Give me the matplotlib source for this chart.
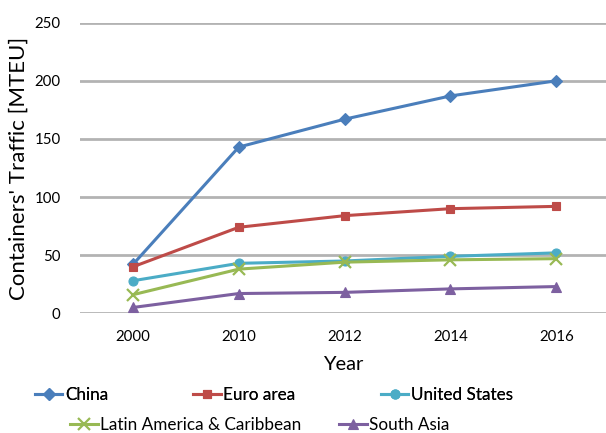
import matplotlib
matplotlib.use("Agg")
import matplotlib.pyplot as plt

plt.rcParams['font.family'] = ['Lato', 'DejaVu Sans']

years = ["2000", "2010", "2012", "2014", "2016"]
china = [42, 143, 167, 187, 200]
euro_area = [40, 74, 84, 90, 92]
united_states = [28, 43, 45, 49, 52]
latin_america = [16, 38, 44, 46, 47]
south_asia = [5, 17, 18, 21, 23]

series = [
    ("China", china, "#4A7EBB", "D", 6.5),
    ("Euro area", euro_area, "#BE4B48", "s", 6),
    ("United States", united_states, "#4BACC6", "o", 6.5),
    ("Latin America & Caribbean", latin_america, "#98B954", "x", 8),
    ("South Asia", south_asia, "#7D60A0", "^", 7.5),
]

fig = plt.figure(figsize=(6.06, 4.33), dpi=100)
ax = fig.add_axes([80 / 606, 119.7 / 433, 1 - 80 / 606, 290.6 / 433])

x = list(range(len(years)))
handles = []
for name, vals, color, marker, ms in series:
    h, = ax.plot(x, vals, color=color, lw=2.2, marker=marker, markersize=ms,
                 markeredgewidth=1.6 if marker == "x" else 0.8,
                 markeredgecolor=color, markerfacecolor=color, label=name,
                 clip_on=False, zorder=3)
    handles.append(h)

ax.set_ylim(0, 250)
ax.set_xlim(-0.5, 4.47)
ax.set_yticks(range(0, 251, 50))
ax.set_xticks(x)
ax.set_xticklabels(years)
ax.yaxis.grid(True, color="#B3B3B3", lw=2)
ax.set_axisbelow(True)
for s in ax.spines.values():
    s.set_visible(False)
ax.tick_params(axis="both", length=0, labelsize=10.8, colors="black")
ax.tick_params(axis="x", pad=12)
ax.tick_params(axis="y", pad=14)

ax.set_xlabel("Year", fontsize=14.5, labelpad=9)
ax.set_ylabel("Containers' Traffic [MTEU]", fontsize=16, labelpad=4)

leg1 = fig.legend(handles=handles[:3], loc="center", bbox_to_anchor=(0.452, 1 - 395 / 433),
                  ncol=3, frameon=False, fontsize=12.3, handlelength=1.6,
                  handletextpad=0.15, columnspacing=5.0, borderpad=0)
fig.add_artist(leg1)
fig.legend(handles=handles[3:], loc="center", bbox_to_anchor=(0.429, 1 - 425 / 433),
           ncol=2, frameon=False, fontsize=12.3, handlelength=1.6,
           handletextpad=0.15, columnspacing=2.2, borderpad=0)

fig.savefig("out.png", dpi=100)
